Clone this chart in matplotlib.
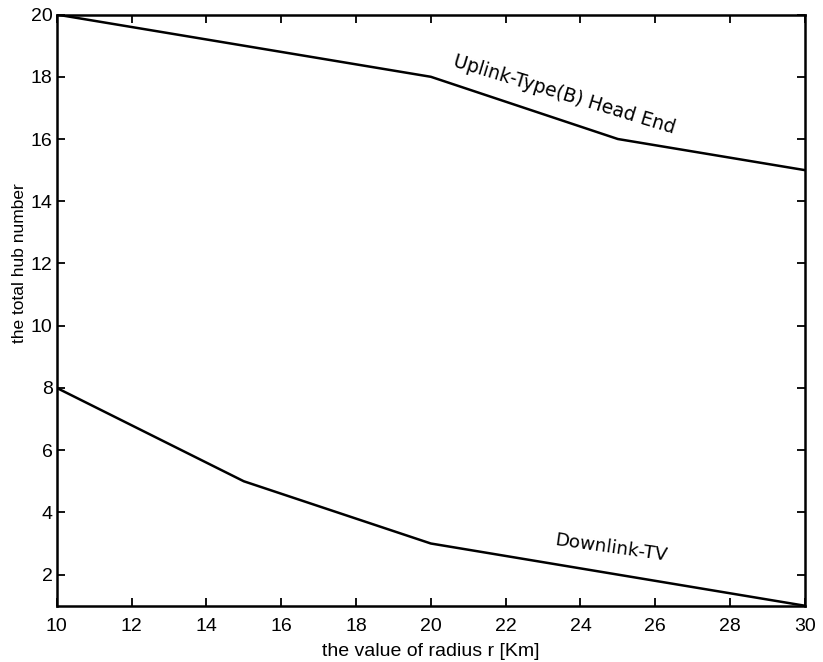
from matplotlib import pyplot as plt

# data
radius = [10, 15, 20, 25, 30]
uplink = [20, 19, 18, 16, 15]
downlink = [8, 5, 3, 2, 1]
x_ticks = [10, 12, 14, 16, 18, 20, 22, 24, 26, 28, 30]
y_ticks = [2, 4, 6, 8, 10, 12, 14, 16, 18, 20]

plt.rcParams['font.family'] = ['Liberation Sans', 'DejaVu Sans']

fig = plt.figure(figsize=(8.23, 6.62), dpi=100)
ax = fig.add_axes([0.069, 0.085, 0.909, 0.893])

ax.plot(radius, uplink, color='black', lw=1.8)
ax.plot(radius, downlink, color='black', lw=1.8)

ax.set_xlim(10, 30)
ax.set_ylim(1, 20)
ax.set_xticks(x_ticks)
ax.set_yticks(y_ticks)
ax.tick_params(direction='in', length=6, width=1.3, top=True, right=True,
               labelsize=14)
ax.tick_params(axis='x', pad=9)
ax.tick_params(axis='y', pad=3)
for s in ax.spines.values():
  s.set_linewidth(1.8)

ax.set_xlabel("the value of radius r [Km]", fontsize=14)
ax.xaxis.set_label_coords(0.5, -0.063)
ax.set_ylabel("the total hub number", fontsize=12.5)
ax.yaxis.set_label_coords(-0.040, 0.58)

ax.text(23.58, 17.43, "Uplink-Type(B) Head End", rotation=-17,
        ha='center', va='center', fontsize=13.5, family='DejaVu Sans',
        rotation_mode='anchor')
ax.text(24.81, 2.86, "Downlink-TV", rotation=-8,
        ha='center', va='center', fontsize=13.2, family='DejaVu Sans',
        rotation_mode='anchor')

fig.savefig('out.png', dpi=100)
